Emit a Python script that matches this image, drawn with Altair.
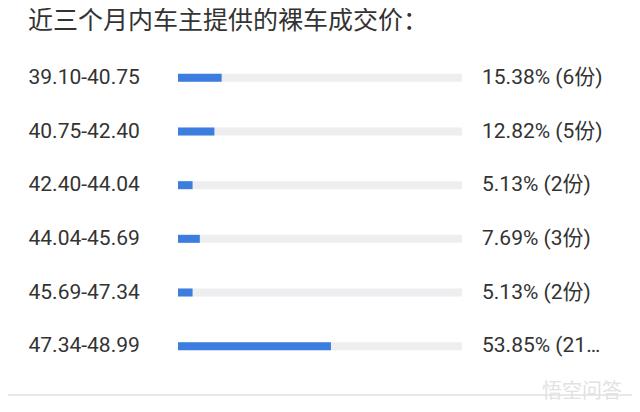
import altair as alt
import pandas as pd

ranges = ["39.10-40.75", "40.75-42.40", "42.40-44.04", "44.04-45.69", "45.69-47.34", "47.34-48.99"]
percents = [15.38, 12.82, 5.13, 7.69, 5.13, 53.85]
counts = [6, 5, 2, 3, 2, 21]

df = pd.DataFrame({
    "range": ranges,
    "pct": percents,
    "count": counts,
})
df["full"] = 100
df["label"] = [f"{p:.2f}% ({c}份)" for p, c in zip(percents, counts)]

FONT = "Roboto, 'Noto Sans CJK SC', sans-serif"

y_enc = alt.Y("range:N", sort=ranges, title=None,
              scale=alt.Scale(paddingInner=0, paddingOuter=0),
              axis=alt.Axis(domain=False, ticks=False, tickSize=0, grid=False,
                            labelAlign="left", labelBaseline="middle",
                            labelPadding=150, labelFontSize=21, labelFont=FONT,
                            labelColor="#333333", labelLimit=200))
x_scale = alt.Scale(domain=[0, 100])

track = alt.Chart(df).mark_bar(size=8, color="#eeeef1").encode(
    x=alt.X("full:Q", scale=x_scale, axis=None),
    y=y_enc,
)
bars = alt.Chart(df).mark_bar(size=8, color="#3d7ddf").encode(
    x=alt.X("pct:Q", scale=x_scale, axis=None),
    y=y_enc,
)
labels = alt.Chart(df).mark_text(align="left", baseline="middle", dx=20,
                                 fontSize=21, font=FONT, color="#333333",
                                 limit=126).encode(
    x=alt.X("full:Q", scale=x_scale, axis=None),
    y=y_enc,
    text="label:N",
)
sep = alt.Chart(df).mark_rule(color="#e8e8e8", strokeWidth=1).encode(
    x=alt.value(-178), x2=alt.value(462), y=alt.value(344)
)
wm = alt.Chart(pd.DataFrame({"t": ["悟空问答"]})).mark_text(
    align="left", baseline="middle", fontSize=20, font="'Noto Sans CJK SC'",
    color="#e2e2e2"
).encode(x=alt.value(364), y=alt.value(341), text="t:N")

chart = alt.layer(track, bars, labels, sep, wm).properties(
    width=284, height=322,
    title=alt.TitleParams("近三个月内车主提供的裸车成交价：", anchor="start", frame="group",
                          dx=-150, offset=17, fontSize=25, fontWeight="normal",
                          font="'Noto Sans CJK SC'", color="#333333"),
    autosize=alt.AutoSizeParams(type="none"),
    padding={"left": 170, "top": 43, "right": 170, "bottom": 50},
).configure(background="white", view=alt.ViewConfig(strokeWidth=0, strokeOpacity=0))

chart.save("out.html", embed_options={"renderer": "svg", "actions": False})
